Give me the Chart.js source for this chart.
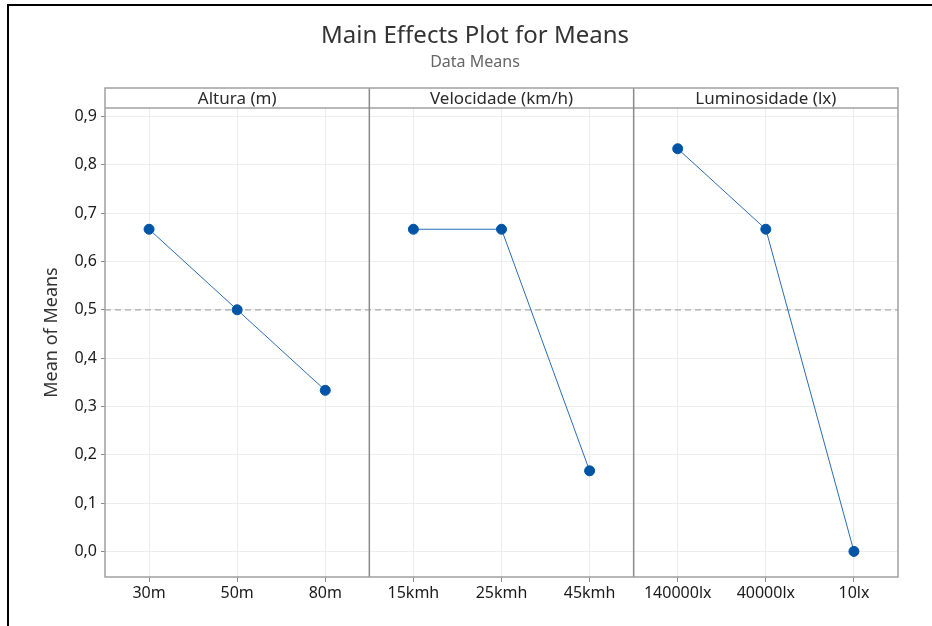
<!DOCTYPE html>
<html>
<head>
<meta charset="utf-8">
<title>Main Effects Plot for Means</title>
<script src="https://cdn.jsdelivr.net/npm/chart.js@4.4.1/dist/chart.umd.min.js"></script>
<style>
  body { margin: 0; background: #fff; }
  #wrap { position: relative; width: 932px; height: 626px; overflow: hidden; background: #fff; }
  #chart { position: absolute; left: 0; top: 0; }
  #frame { position: absolute; left: 7px; top: 4px; right: -10px; bottom: -10px;
           border-left: 2px solid #000; border-top: 2px solid #000; pointer-events: none; }
</style>
</head>
<body>
<div id="wrap">
  <canvas id="chart" width="932" height="626"></canvas>
  <div id="frame"></div>
</div>
<script>
const factors = ["Altura (m)", "Velocidade (km/h)", "Luminosidade (lx)"];
const alturaLevels = ["30m", "50m", "80m"];
const velocidadeLevels = ["15kmh", "25kmh", "45kmh"];
const luminosidadeLevels = ["140000lx", "40000lx", "10lx"];

const alturaMeans = [0.6667, 0.5, 0.3333];
const velocidadeMeans = [0.6667, 0.6667, 0.1667];
const luminosidadeMeans = [0.8333, 0.6667, 0.0];

const yTicks = [0, 0.1, 0.2, 0.3, 0.4, 0.5, 0.6, 0.7, 0.8, 0.9];

const FONT = "'Noto Sans', 'Open Sans', sans-serif";
const labels = [...alturaLevels, ...velocidadeLevels, ...luminosidadeLevels];
const groups = [alturaMeans, velocidadeMeans, luminosidadeMeans];

// every factor averages to the same overall mean
const allMeans = groups.flat();
const grandMean = allMeans.reduce((s, v) => s + v, 0) / allMeans.length;

// one dataset per factor, nulls elsewhere so lines stay inside their panel
function panelData(i) {
  return labels.map((_, j) => (Math.floor(j / 3) === i ? groups[i][j % 3] : null));
}

const HEADER_H = 20;

const panelsPlugin = {
  id: "panels",
  beforeDatasetsDraw(chart) {
    const { ctx, chartArea: a, scales: { x, y } } = chart;
    ctx.save();
    // reference line at the grand mean
    const gy = y.getPixelForValue(grandMean);
    ctx.strokeStyle = "#a8a8a8";
    ctx.lineWidth = 1.3;
    ctx.setLineDash([6, 4]);
    ctx.beginPath();
    ctx.moveTo(a.left, gy);
    ctx.lineTo(a.right, gy);
    ctx.stroke();
    ctx.setLineDash([]);
    // header strip over the top of the plot
    ctx.fillStyle = "#fff";
    ctx.fillRect(a.left, a.top, a.right - a.left, HEADER_H);
    ctx.strokeStyle = "#a0a0a0";
    ctx.lineWidth = 1.5;
    ctx.beginPath();
    ctx.moveTo(a.left, a.top + HEADER_H);
    ctx.lineTo(a.right, a.top + HEADER_H);
    ctx.stroke();
    // panel dividers
    const edges = [a.left];
    for (let i = 1; i < factors.length; i++) {
      const xm = (x.getPixelForValue(i * 3 - 1) + x.getPixelForValue(i * 3)) / 2;
      edges.push(xm);
      ctx.strokeStyle = "#8a8a8a";
      ctx.lineWidth = 1.5;
      ctx.beginPath();
      ctx.moveTo(xm, a.top);
      ctx.lineTo(xm, a.bottom);
      ctx.stroke();
    }
    edges.push(a.right);
    ctx.fillStyle = "#2a2a2a";
    ctx.font = "17px " + FONT;
    ctx.textAlign = "center";
    ctx.textBaseline = "middle";
    factors.forEach((f, i) => {
      ctx.fillText(f, (edges[i] + edges[i + 1]) / 2, a.top + HEADER_H / 2 + 1);
    });
    ctx.restore();
  },
  afterDraw(chart) {
    const { ctx, chartArea: a } = chart;
    ctx.save();
    ctx.strokeStyle = "#a0a0a0";
    ctx.lineWidth = 1.5;
    ctx.strokeRect(a.left, a.top, a.right - a.left, a.bottom - a.top);
    ctx.fillStyle = "#333";
    ctx.textAlign = "center";
    ctx.textBaseline = "middle";
    ctx.font = "24px " + FONT;
    ctx.fillText("Main Effects Plot for Means", 475, 36);
    ctx.fillStyle = "#666";
    ctx.font = "16px " + FONT;
    ctx.fillText("Data Means", 475, 62);
    ctx.restore();
  }
};

function makeDataset(i) {
  return {
    label: factors[i],
    data: panelData(i),
    borderColor: "#2b6cb3",
    borderWidth: 1,
    backgroundColor: "#0054a6",
    pointBackgroundColor: "#0054a6",
    pointBorderColor: "#0054a6",
    pointRadius: 5,
    tension: 0,
    spanGaps: false
  };
}

new Chart(document.getElementById("chart"), {
  type: "line",
  data: {
    labels: labels,
    datasets: factors.map((_, i) => makeDataset(i))
  },
  options: {
    responsive: false,
    animation: false,
    layout: { padding: { top: 88, right: 34, bottom: 0, left: 0 } },
    plugins: {
      legend: { display: false },
      tooltip: { enabled: false }
    },
    scales: {
      x: {
        type: "category",
        offset: true,
        grid: { color: "#ededed", tickColor: "#8a8a8a", tickLength: 5, lineWidth: 1 },
        border: { display: false },
        ticks: { color: "#1a1a1a", font: { family: FONT, size: 16 }, padding: 2, maxRotation: 0, autoSkip: false },
        afterFit(scale) { scale.height = 49; }
      },
      y: {
        min: -0.053,
        max: 0.959,
        afterBuildTicks(scale) { scale.ticks = yTicks.map(v => ({ value: v })); },
        grid: { color: "#ededed", tickColor: "#8a8a8a", tickLength: 4, lineWidth: 1 },
        border: { display: false },
        ticks: {
          color: "#1a1a1a",
          font: { family: FONT, size: 16 },
          padding: 4,
          callback: v => Number(v).toFixed(1).replace(".", ",")
        },
        title: {
          display: true,
          text: "Mean of Means",
          color: "#333",
          font: { family: FONT, size: 18 },
          padding: { top: 41, bottom: 0 }
        },
        afterFit(scale) { scale.width = 105; }
      }
    }
  },
  plugins: [panelsPlugin]
});
</script>
</body>
</html>
